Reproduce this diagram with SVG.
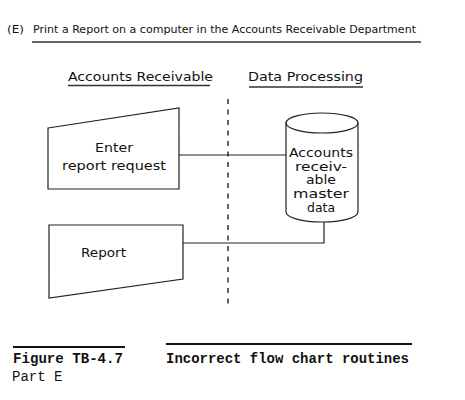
<svg xmlns="http://www.w3.org/2000/svg" width="465" height="400" viewBox="0 0 465 400">
<style>
.s{fill:#fff;stroke:#222;stroke-width:1.2}
.c{fill:none;stroke:#222;stroke-width:1.2}
.t{font-family:"DejaVu Sans",sans-serif;font-size:12.5px;fill:#111}
.k{font-family:"DejaVu Sans",sans-serif;font-size:11.5px;fill:#111}
.h{font-family:"DejaVu Sans",sans-serif;font-size:10.5px;fill:#111}
.m{font-family:"Liberation Mono",monospace;font-size:14px;fill:#111}
.u{stroke:#333;stroke-width:1.5}
</style>
<rect width="465" height="400" fill="#fff"/>
<g id="title">
<text class="h" x="7" y="33" textLength="17" lengthAdjust="spacingAndGlyphs">(E)</text>
<text class="h" x="33" y="33" textLength="383" lengthAdjust="spacingAndGlyphs">Print a Report on a computer in the Accounts Receivable Department</text>
<line class="u" x1="32" y1="42" x2="421" y2="42"/>
</g>
<g id="lane-ar">
<text class="t" x="68" y="81" textLength="145" lengthAdjust="spacingAndGlyphs">Accounts Receivable</text>
<line class="u" x1="68" y1="85.5" x2="210" y2="85.5"/>
</g>
<g id="lane-dp">
<text class="t" x="248" y="81" textLength="115" lengthAdjust="spacingAndGlyphs">Data Processing</text>
<line class="u" x1="249" y1="87" x2="363" y2="87"/>
</g>
<g id="divider">
<line x1="228" y1="99" x2="228" y2="305" stroke="#333" stroke-width="1.5" stroke-dasharray="5 5.5"/>
</g>
<g id="connectors">
<polyline class="c" points="179,155 286,155"/>
<polyline class="c" points="324,222 324,243 183,243"/>
</g>
<g id="enter">
<polygon class="s" points="48,128 179,108 179,189 48,189"/>
<text class="t" x="114" y="152" text-anchor="middle" textLength="38" lengthAdjust="spacingAndGlyphs">Enter</text>
<text class="t" x="114" y="170" text-anchor="middle" textLength="104" lengthAdjust="spacingAndGlyphs">report request</text>
</g>
<g id="master">
<path class="s" d="M286,123 A36,10 0 0 1 358,123 L358,212 A36,10 0 0 1 286,212 Z"/>
<path class="c" d="M286,123 A36,10 0 0 0 358,123"/>
<g text-anchor="middle">
<text class="k" x="321" y="157" textLength="64" lengthAdjust="spacingAndGlyphs">Accounts</text>
<text class="k" x="321" y="170.5" textLength="52" lengthAdjust="spacingAndGlyphs">receiv-</text>
<text class="k" x="321" y="184" textLength="30" lengthAdjust="spacingAndGlyphs">able</text>
<text class="k" x="321" y="198" textLength="56" lengthAdjust="spacingAndGlyphs">master</text>
<text class="k" x="321" y="211.5" textLength="28" lengthAdjust="spacingAndGlyphs">data</text>
</g>
</g>
<g id="report">
<polygon class="s" points="49,225 183,225 183,279 49,298"/>
<text class="t" x="81" y="257" textLength="45" lengthAdjust="spacingAndGlyphs">Report</text>
</g>
<g id="caption">
<line x1="13" y1="347" x2="125" y2="347" stroke="#111" stroke-width="2"/>
<text class="m" x="13" y="363" font-weight="bold" textLength="110" lengthAdjust="spacingAndGlyphs">Figure TB-4.7</text>
<text class="m" x="12" y="381">Part E</text>
<line x1="166" y1="344" x2="412" y2="344" stroke="#111" stroke-width="2"/>
<text class="m" x="166" y="363" font-weight="bold" textLength="243" lengthAdjust="spacingAndGlyphs">Incorrect flow chart routines</text>
</g>
</svg>
